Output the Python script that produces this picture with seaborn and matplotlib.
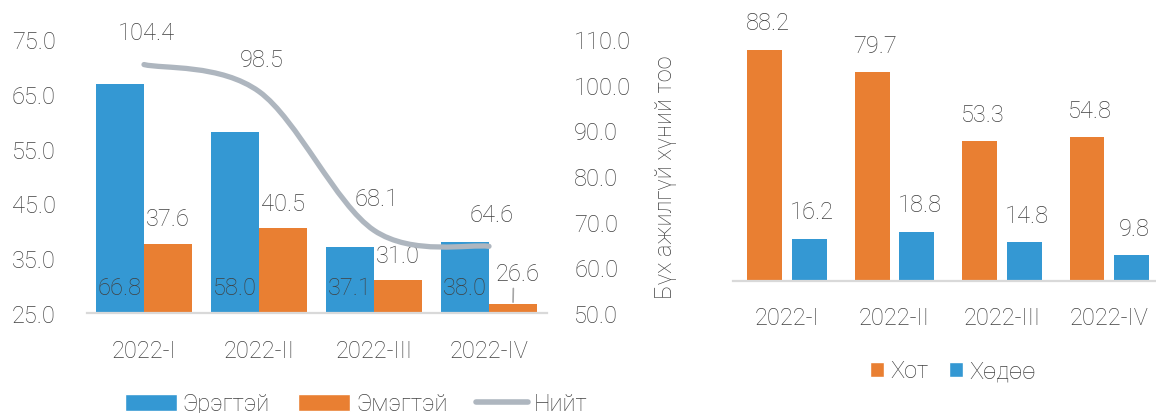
import numpy as np
import pandas as pd
import matplotlib
matplotlib.use("Agg")
import matplotlib.pyplot as plt
from matplotlib.path import Path
from matplotlib.patches import PathPatch, Patch
from matplotlib.lines import Line2D
import seaborn as sns

# ---------------- data ----------------
quarters = ["2022-I", "2022-II", "2022-III", "2022-IV"]
male = [66.8, 58.0, 37.1, 38.0]          # Эрэгтэй
female = [37.6, 40.5, 31.0, 26.6]        # Эмэгтэй
total = [104.4, 98.5, 68.1, 64.6]        # Нийт
urban = [88.2, 79.7, 53.3, 54.8]         # Хот
rural = [16.2, 18.8, 14.8, 9.8]          # Хөдөө

left_ticks = [25.0, 35.0, 45.0, 55.0, 65.0, 75.0]
right_ticks = [50.0, 60.0, 70.0, 80.0, 90.0, 100.0, 110.0]

BLUE = "#3498D3"
ORANGE = "#E97F32"
GRAY = "#AEB6BF"
TXT = "#404040"
BASE = "#D9D9D9"

sns.set_theme(style="white")
plt.rcParams["font.family"] = ["Roboto", "DejaVu Sans"]
plt.rcParams["font.weight"] = "light"
plt.rcParams["text.color"] = TXT
FS = 17

W, H = 1156, 414
fig = plt.figure(figsize=(W / 100, H / 100), dpi=100)

# ---------------- left chart ----------------
ax = fig.add_axes([86.5 / W, (H - 314) / H, 460 / W, 274 / H])
df1 = pd.DataFrame({
    "q": quarters * 2,
    "v": male + female,
    "s": ["Эрэгтэй"] * 4 + ["Эмэгтэй"] * 4,
})
sns.barplot(data=df1, x="q", y="v", hue="s", order=quarters,
            hue_order=["Эрэгтэй", "Эмэгтэй"], palette=[BLUE, ORANGE],
            width=0.835, gap=0, linewidth=0, saturation=1, ax=ax, legend=False)
ax.set_xlim(-0.5, 3.5)
ax.set_ylim(25, 75)
ax.set_yticks(left_ticks)
ax.set_yticklabels([f"{t:.1f}" for t in left_ticks])
ax.set_xlabel("")
ax.set_ylabel("")
for s in ["top", "left", "right"]:
    ax.spines[s].set_visible(False)
ax.spines["bottom"].set_color(BASE)
ax.spines["bottom"].set_linewidth(1.6)
ax.tick_params(axis="y", length=0, pad=22, labelsize=FS, labelcolor=TXT)
ax.tick_params(axis="x", length=0, pad=19, labelsize=FS, labelcolor=TXT)

slot = 0.835 / 2
for i, (m, f) in enumerate(zip(male, female)):
    xm = i - slot / 2
    xf = i + slot / 2
    ax.annotate(f"{m:.1f}", xy=(xm, 25), xytext=(0, 18), textcoords="offset points",
                ha="center", va="center", fontsize=FS, color=TXT)
    if i == 3:
        ax.annotate(f"{f:.1f}", xy=(xf, f), xytext=(3, 22), textcoords="offset points",
                    ha="center", va="center", fontsize=FS, color=TXT,
                    arrowprops=dict(arrowstyle="-", color="#A6A6A6", lw=1.2,
                                    shrinkA=0, shrinkB=-1.5, relpos=(0.42, 0.5)))
    else:
        ax.annotate(f"{f:.1f}", xy=(xf, f), xytext=(0, 18), textcoords="offset points",
                    ha="center", va="center", fontsize=FS, color=TXT)

ax2 = ax.twinx()
ax2.set_ylim(50, 110)
ax2.set_yticks(right_ticks)
ax2.set_yticklabels([f"{t:.1f}" for t in right_ticks])
for s in ["top", "left", "right", "bottom"]:
    ax2.spines[s].set_visible(False)
ax2.tick_params(axis="y", length=0, pad=20, labelsize=FS, labelcolor=TXT)
ax2.grid(False)
ax.grid(False)

# smoothed (Catmull-Rom style bezier) line through the total values
xs = np.arange(len(total), dtype=float)
ys = np.array(total, dtype=float)
verts = [(xs[0], ys[0])]
codes = [Path.MOVETO]
n = len(xs)
for i in range(n - 1):
    p0 = np.array([xs[max(i - 1, 0)], ys[max(i - 1, 0)]])
    p1 = np.array([xs[i], ys[i]])
    p2 = np.array([xs[i + 1], ys[i + 1]])
    p3 = np.array([xs[min(i + 2, n - 1)], ys[min(i + 2, n - 1)]])
    c1 = p1 + (p2 - p0) / 6
    c2 = p2 - (p3 - p1) / 6
    verts += [tuple(c1), tuple(c2), tuple(p2)]
    codes += [Path.CURVE4] * 3
ax2.add_patch(PathPatch(Path(verts, codes), fill=False, edgecolor=GRAY, lw=3.8,
                        capstyle="round", joinstyle="round"))
for i, t in enumerate(total):
    ax2.annotate(f"{t:.1f}", xy=(i, t), xytext=(2, 23), textcoords="offset points",
                 ha="center", va="center", fontsize=FS, color=TXT)

fig.text(666 / W, 1 - 177 / H, "Бүх ажилгүй хүний тоо", rotation=90,
         ha="center", va="center", fontsize=FS, color=TXT)

h1 = [Patch(facecolor=BLUE, label="Эрэгтэй"),
      Patch(facecolor=ORANGE, label="Эмэгтэй"),
      Line2D([], [], color=GRAY, lw=4, solid_capstyle="round", label="Нийт")]
fig.legend(handles=h1, loc="center", bbox_to_anchor=(356 / W, 1 - 405 / H), ncol=3,
           frameon=False, fontsize=FS, handlelength=2.2, handleheight=0.7,
           handletextpad=0.25, columnspacing=1.2, borderaxespad=0, borderpad=0)

# ---------------- right chart ----------------
bx = fig.add_axes([733.4 / W, (H - 282) / H, 429.6 / W, 262 / H])
df2 = pd.DataFrame({
    "q": quarters * 2,
    "v": urban + rural,
    "s": ["Хот"] * 4 + ["Хөдөө"] * 4,
})
sns.barplot(data=df2, x="q", y="v", hue="s", order=quarters,
            hue_order=["Хот", "Хөдөө"], palette=[ORANGE, BLUE],
            width=0.832, gap=0.22, linewidth=0, saturation=1, ax=bx, legend=False)
bx.set_xlim(-0.5, 3.5)
bx.set_ylim(0, 100)
bx.set_yticks([])
bx.set_xlabel("")
bx.set_ylabel("")
for s in ["top", "left", "right"]:
    bx.spines[s].set_visible(False)
bx.spines["bottom"].set_color(BASE)
bx.spines["bottom"].set_linewidth(1.6)
bx.tick_params(axis="x", length=0, pad=18, labelsize=FS, labelcolor=TXT)
bx.grid(False)

slot2 = 0.832 / 2
for i, (u, r) in enumerate(zip(urban, rural)):
    bx.annotate(f"{u:.1f}", xy=(i - slot2 / 2, u), xytext=(2, 19.5), textcoords="offset points",
                ha="center", va="center", fontsize=FS, color=TXT)
    bx.annotate(f"{r:.1f}", xy=(i + slot2 / 2, r), xytext=(2, 19.5), textcoords="offset points",
                ha="center", va="center", fontsize=FS, color=TXT)

h2 = [Patch(facecolor=ORANGE, label="Хот"), Patch(facecolor=BLUE, label="Хөдөө")]
fig.legend(handles=h2, loc="center", bbox_to_anchor=(953 / W, 1 - 372 / H), ncol=2,
           frameon=False, fontsize=FS, handlelength=0.6, handleheight=0.6,
           handletextpad=0.27, columnspacing=0.85, borderaxespad=0, borderpad=0)

fig.savefig("out.png", dpi=100)
